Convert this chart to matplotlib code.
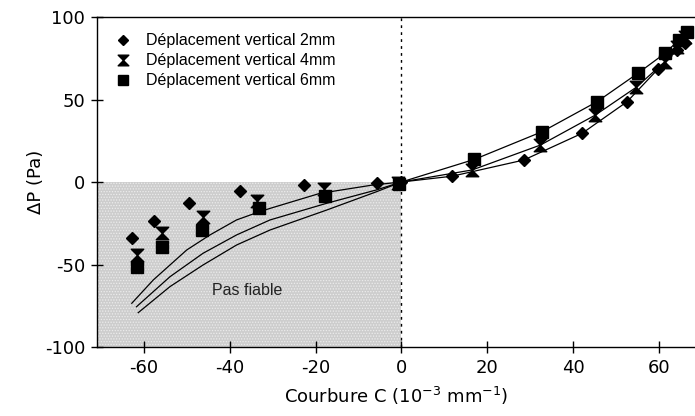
import matplotlib
matplotlib.use("Agg")
import matplotlib.pyplot as plt
from matplotlib.path import Path

plt.rcParams['axes.unicode_minus'] = False
plt.rcParams['hatch.color'] = '#ececec'
plt.rcParams['hatch.linewidth'] = 0.6

# ---- data ----
x_2mm = [-62.8, -57.6, -49.4, -37.5, -22.6, -5.7, 0.0, 11.8, 28.5, 42.1, 52.6, 59.8, 64.3, 66.0]
y_2mm = [-33.7, -23.4, -12.9, -5.2, -1.8, -0.8, 0.0, 3.5, 13.3, 29.5, 48.7, 68.5, 80.0, 84.0]

x_4mm = [-61.6, -55.8, -46.2, -33.6, -18.1, -0.8, 16.5, 32.4, 45.2, 54.7, 61.4, 64.3, 66.0]
y_4mm = [-44.2, -31.1, -21.0, -11.3, -4.2, -0.5, 7.3, 22.4, 40.6, 57.4, 73.0, 82.0, 88.0]

x_6mm = [-61.6, -55.8, -46.5, -33.2, -17.7, -0.5, 17.0, 32.8, 45.6, 55.1, 61.4, 64.6, 66.6]
y_6mm = [-51.3, -39.2, -29.1, -16.0, -8.5, -1.0, 13.7, 30.5, 48.7, 65.9, 78.0, 86.0, 91.0]

# model curves
cx_a = [-62.8, -57.8, -50.0, -44.6, -38.4, -33.7, -30.6, -19.0, -6.6, 0.0,
        11.8, 28.5, 42.1, 52.6, 59.8, 64.3]
cy_a = [-73.5, -59.4, -41.2, -32.1, -23.0, -18.6, -16.0, -6.9, -1.8, 0.0,
        3.5, 13.3, 29.5, 48.7, 68.5, 80.0]
cx_b = [-61.7, -53.9, -46.2, -38.4, -30.6, -17.4, -5.8, 0.0,
        16.5, 32.4, 45.2, 54.7, 61.4, 64.3]
cy_b = [-75.6, -57.4, -43.2, -32.1, -23.0, -12.9, -4.8, 0.0,
        7.3, 22.4, 40.6, 57.4, 73.0, 82.0]
cx_c = [-61.3, -53.9, -46.2, -38.4, -30.6, -17.4, -5.8, 0.0,
        17.0, 32.8, 45.6, 55.1, 61.4, 64.6]
cy_c = [-79.2, -63.4, -50.3, -38.2, -29.1, -17.0, -5.9, 0.0,
        13.7, 30.5, 48.7, 65.9, 78.0, 86.0]

labels = ["Déplacement vertical 2mm", "Déplacement vertical 4mm", "Déplacement vertical 6mm"]
xticks = [-60, -40, -20, 0, 20, 40, 60]
yticks = [-100, -50, 0, 50, 100]

# hourglass marker
hourglass = Path([(-1, 1), (1, 1), (0, 0), (1, -1), (-1, -1), (0, 0), (-1, 1)],
                 [Path.MOVETO, Path.LINETO, Path.LINETO, Path.LINETO, Path.LINETO,
                  Path.LINETO, Path.CLOSEPOLY])

fig = plt.figure(figsize=(6.95, 4.16), dpi=100)
ax = fig.add_axes([97/695, 69/416, 598/695, 330/416])

ax.set_xlim(-70.9, 68.4)
ax.set_ylim(-100, 100)

# unreliable zone
ax.fill_between([-70.9, 0], [-100, -100], [0, 0], facecolor='#cdcdcd', hatch='......',
                edgecolor='none', zorder=0, lw=0)
ax.plot([0, 0], [-100, 100], color='black', lw=1.0, ls=(0, (2, 3)), zorder=1)

for cx, cy in [(cx_a, cy_a), (cx_b, cy_b), (cx_c, cy_c)]:
    ax.plot(cx, cy, color='black', lw=0.9, zorder=2)

ax.plot(x_2mm, y_2mm, ls='none', marker='D', ms=6.0, color='black', label=labels[0], zorder=3)
ax.plot(x_4mm, y_4mm, ls='none', marker=hourglass, ms=9, color='black', label=labels[1], zorder=3)
ax.plot(x_6mm, y_6mm, ls='none', marker='s', ms=8.8, color='black', label=labels[2], zorder=3)

ax.text(-35.8, -65.5, "Pas fiable", fontsize=11.5, family='Liberation Sans',
        ha='center', va='center', color='#222222')

leg = ax.legend(loc='upper left', bbox_to_anchor=(0.01, 0.985), frameon=False,
                prop={'family': 'Liberation Sans', 'size': 11.5},
                handletextpad=0.9, labelspacing=0.32, handlelength=1.1, markerscale=0.85,
                borderaxespad=0.3)

ax.set_xticks(xticks)
ax.set_yticks(yticks)
ax.set_xticklabels([str(t) for t in xticks])
ax.set_yticklabels([str(t) for t in yticks])
ax.tick_params(direction='inout', length=9, width=1, labelsize=13, pad=4)
for lab in ax.get_xticklabels() + ax.get_yticklabels():
    lab.set_family('DejaVu Sans')

ax.spines['right'].set_visible(False)
for s in ['left', 'bottom', 'top']:
    ax.spines[s].set_linewidth(1.0)

ax.set_xlabel("Courbure C (10$^{-3}$ mm$^{-1}$)", fontsize=13, family='DejaVu Sans', labelpad=6)
ax.set_ylabel("ΔP (Pa)", fontsize=13, family='DejaVu Sans', labelpad=0)

fig.savefig("out.png", dpi=100)
